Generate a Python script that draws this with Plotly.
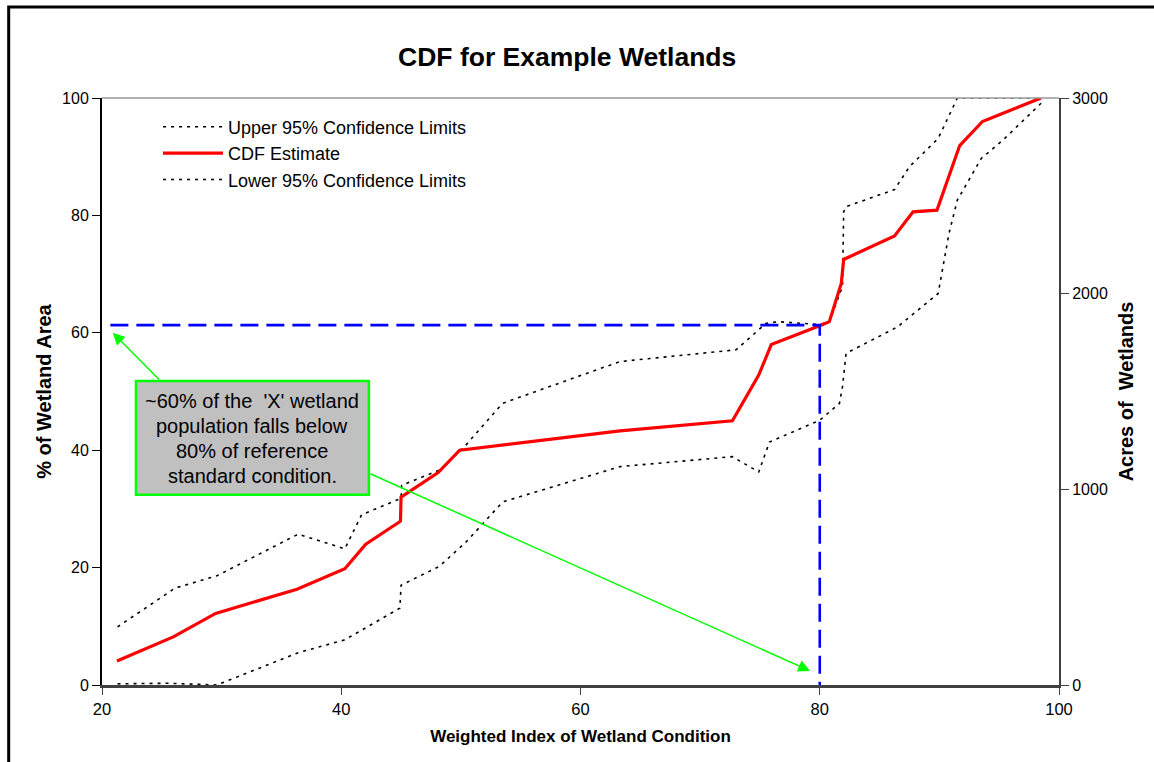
import plotly.graph_objects as go

# Weighted index of wetland condition (x) vs. cumulative % of wetland area (y)
cdf_x = [21.25, 25.96, 29.5, 36.3, 40.3, 42.05, 44.95, 45.0, 48.1, 49.9, 63.3, 72.7,
         74.9, 75.95, 80.1, 80.8, 81.8, 82.0, 86.25, 87.8, 89.8, 91.0, 91.7, 93.6, 98.5]
cdf_y = [4.1, 8.2, 12.2, 16.3, 19.8, 24.0, 27.9, 32.0, 36.2, 40.0, 43.3, 45.0,
         52.8, 58.0, 61.3, 61.9, 68.4, 72.5, 76.5, 80.6, 80.9, 87.7, 91.9, 96.0, 100.0]

upper_x = [21.3, 26.1, 29.6, 36.4, 40.3, 41.7, 45.0, 45.05, 48.2, 50.3, 53.5, 63.3, 73.0,
           75.5, 76.5, 80.0, 80.8, 81.9, 82.0, 82.2, 86.25, 87.5, 89.9, 91.5, 98.5]
upper_y = [9.9, 16.5, 18.6, 25.7, 23.2, 29.0, 31.8, 34.0, 36.6, 40.6, 48.0, 55.1, 57.1,
           61.6, 61.9, 61.4, 61.9, 67.9, 80.6, 81.5, 84.4, 88.3, 93.1, 100.0, 100.0]

lower_x = [21.3, 25.5, 29.6, 36.4, 40.3, 44.9, 45.0, 48.2, 50.5, 53.5, 63.3, 72.7, 74.9,
           75.8, 80.0, 81.65, 81.9, 82.2, 86.5, 89.9, 90.8, 91.5, 93.5, 95.3, 98.5]
lower_y = [0.2, 0.3, 0.0, 5.5, 7.7, 13.1, 17.0, 20.2, 24.5, 31.2, 37.2, 38.9, 36.3,
           41.4, 45.1, 48.0, 50.8, 56.5, 61.0, 66.7, 76.9, 82.6, 89.7, 92.8, 99.1]

# Reference condition threshold and the CDF value read at it
ref_index = 80
ref_pct = 61.3
ref_start = 20.7

note_lines = ["~60% of the  'X' wetland", "population falls below",
              "80% of reference", "standard condition."]

FONT = "Arial, Liberation Sans, sans-serif"
GREEN = "#00FF00"

fig = go.Figure()

fig.add_trace(go.Scatter(
    x=upper_x, y=upper_y, mode="lines", name="Upper 95% Confidence Limits",
    line=dict(color="black", width=1.6, dash="3px,5px")))
fig.add_trace(go.Scatter(
    x=cdf_x, y=cdf_y, mode="lines", name="CDF Estimate",
    line=dict(color="#FF0000", width=3.2)))
fig.add_trace(go.Scatter(
    x=lower_x, y=lower_y, mode="lines", name="Lower 95% Confidence Limits",
    line=dict(color="black", width=1.6, dash="3px,5px")))

# Blue guide: from the y-axis across to the threshold, then down to the x-axis
fig.add_trace(go.Scatter(
    x=[ref_start, ref_index, ref_index], y=[ref_pct, ref_pct, 0], mode="lines",
    showlegend=False, line=dict(color="#0000FF", width=2.6, dash="18px,8px")))

# Secondary axis in acres
fig.add_trace(go.Scatter(x=[None], y=[None], yaxis="y2", showlegend=False,
                         hoverinfo="skip"))

shapes = [
    # top edge of plot area
    dict(type="line", xref="paper", yref="paper", x0=0, x1=1, y0=1, y1=1,
         line=dict(color="#999999", width=1.5)),
    # outer frame
    dict(type="rect", xref="paper", yref="paper", x0=-0.0975, x1=1.3, y0=-0.3, y1=1.155,
         line=dict(color="black", width=3)),
    # note box
    dict(type="rect", xref="x", yref="y", x0=22.84, x1=42.31, y0=32.4, y1=51.8,
         fillcolor="#C0C0C0", line=dict(color=GREEN, width=2.5), layer="above"),
]

annotations = []
# arrows from the note box
annotations.append(dict(x=20.9, y=60.0, ax=24.9, ay=51.8, xref="x", yref="y",
                        axref="x", ayref="y", text="", showarrow=True,
                        arrowhead=2, arrowsize=1.6, arrowwidth=1.5, arrowcolor=GREEN))
annotations.append(dict(x=79.2, y=2.4, ax=42.3, ay=36.1, xref="x", yref="y",
                        axref="x", ayref="y", text="", showarrow=True,
                        arrowhead=2, arrowsize=1.6, arrowwidth=1.5, arrowcolor=GREEN))
line_y = [48.4, 44.1, 39.9, 35.6]
for txt, yy in zip(note_lines, line_y):
    annotations.append(dict(x=32.57, y=yy, xref="x", yref="y", text=txt,
                            showarrow=False, font=dict(family=FONT, size=20, color="black")))

fig.update_layout(
    width=1154, height=762,
    margin=dict(l=102, r=95, t=98, b=77),
    paper_bgcolor="white", plot_bgcolor="white",
    font=dict(family=FONT, color="black"),
    title=dict(text="<b>CDF for Example Wetlands</b>", x=0.4915, xanchor="center",
               y=0.926, yanchor="middle", font=dict(size=26.5, family=FONT, color="black")),
    showlegend=True,
    legend=dict(x=0.0585, y=0.982, xanchor="left", yanchor="top",
                bgcolor="rgba(0,0,0,0)", font=dict(size=18, family=FONT),
                tracegroupgap=0, itemwidth=60),
    xaxis=dict(range=[20, 100], tickvals=[20, 40, 60, 80, 100], showgrid=False,
               zeroline=False, showline=True, linecolor="#404040", linewidth=2.5,
               ticks="outside", ticklen=7, tickcolor="#404040",
               tickfont=dict(size=16.5, family=FONT),
               title=dict(text="<b>Weighted Index of Wetland Condition</b>",
                          font=dict(size=17, family=FONT), standoff=14)),
    yaxis=dict(range=[0, 100], tickvals=[0, 20, 40, 60, 80, 100], showgrid=False,
               zeroline=False, showline=True, linecolor="black", linewidth=2,
               ticks="outside", ticklen=8, tickcolor="black",
               tickfont=dict(size=16, family=FONT),
               title=dict(text="<b>% of Wetland Area</b>",
                          font=dict(size=20, family=FONT), standoff=5)),
    yaxis2=dict(range=[0, 3000], tickvals=[0, 1000, 2000, 3000], overlaying="y",
                side="right", showgrid=False, zeroline=False, showline=True,
                linecolor="#404040", linewidth=2, ticks="outside", ticklen=8,
                tickcolor="#404040", tickfont=dict(size=16, family=FONT),
                title=dict(text="<b>Acres of  Wetlands</b>",
                           font=dict(size=20, family=FONT), standoff=12)),
    shapes=shapes,
    annotations=annotations,
)

fig.write_html("out.html")
